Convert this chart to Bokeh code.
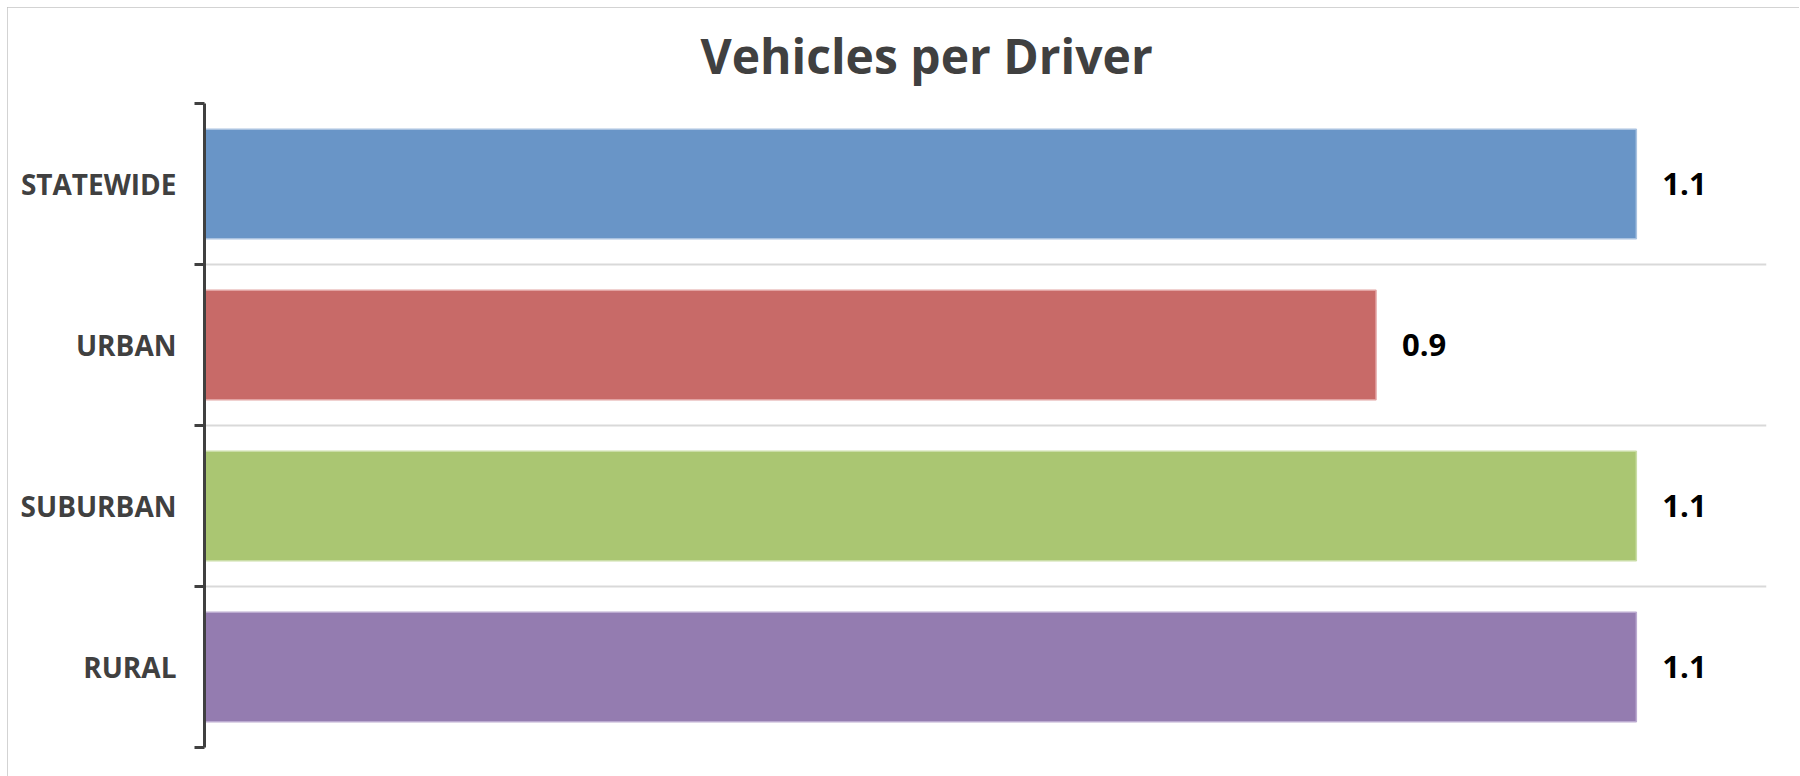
from bokeh.plotting import figure
from bokeh.models import ColumnDataSource, FixedTicker, Range1d, Grid
from bokeh.core.properties import value
from bokeh.embed import file_html
from bokeh.resources import INLINE

# ---- data ----
categories = ["STATEWIDE", "URBAN", "SUBURBAN", "RURAL"]
values = [1.1, 0.9, 1.1, 1.1]
value_labels = ["1.1", "0.9", "1.1", "1.1"]
bar_colors = ["#6995C7", "#C86A68", "#AAC672", "#947CB0"]
edge_colors = ["#A9C2E0", "#E2A3A2", "#CADDA6", "#BBAAD0"]
title_text = "Vehicles per Driver"

n = len(categories)
ypos = [n - i - 0.5 for i in range(n)]
bounds = [float(i) for i in range(n + 1)]

src = ColumnDataSource(dict(y=ypos, value=values, label=value_labels,
                            color=bar_colors, edge=edge_colors))

p = figure(width=1792, height=769,
           x_range=Range1d(0, 1.2), y_range=Range1d(0, n),
           output_backend="svg", toolbar_location=None,
           min_border_left=197, min_border_right=33,
           min_border_top=96, min_border_bottom=29,
           background_fill_color="white", border_fill_color="white")

p.title.text = title_text
p.title.align = "left"
p.title.offset = 496
p.title.vertical_align = "top"
p.title.text_font = "Open Sans"
p.title.text_font_style = "bold"
p.title.text_font_size = "48px"
p.title.text_color = "#404040"
p.title.standoff = 28

p.hbar(y="y", left=0, right="value", height=0.68, source=src,
       fill_color="color", line_color="edge", line_width=1.5)

p.text(x="value", y="y", text="label", source=src, x_offset=26,
       text_align="left", text_baseline="middle",
       text_font=value("Open Sans"), text_font_style="bold",
       text_font_size="31px", text_color="black")

p.xaxis.visible = False
p.xgrid.grid_line_color = None
p.ygrid.grid_line_color = None

yax = p.yaxis[0]
yax.ticker = FixedTicker(ticks=ypos, minor_ticks=bounds)
yax.major_label_overrides = {y: c for y, c in zip(ypos, categories)}
yax.major_tick_in = 0
yax.major_tick_out = 0
yax.major_tick_line_color = None
yax.minor_tick_in = 0
yax.minor_tick_out = 10
yax.minor_tick_line_width = 3
yax.minor_tick_line_color = "#404040"
yax.axis_line_width = 3
yax.axis_line_color = "#404040"
yax.major_label_text_font = "Open Sans"
yax.major_label_text_font_style = "bold"
yax.major_label_text_font_size = "28px"
yax.major_label_text_color = "#404040"
yax.major_label_standoff = 18

band_grid = Grid(dimension=1, ticker=FixedTicker(ticks=bounds),
                 grid_line_color="#D9D9D9", grid_line_width=2)
p.add_layout(band_grid)

p.outline_line_color = None
p.styles = {"margin-left": "7px", "margin-top": "7px",
            "outline": "2px solid #C4C4C4", "outline-offset": "-2px"}

open("out.html", "w").write(file_html(p, INLINE))
